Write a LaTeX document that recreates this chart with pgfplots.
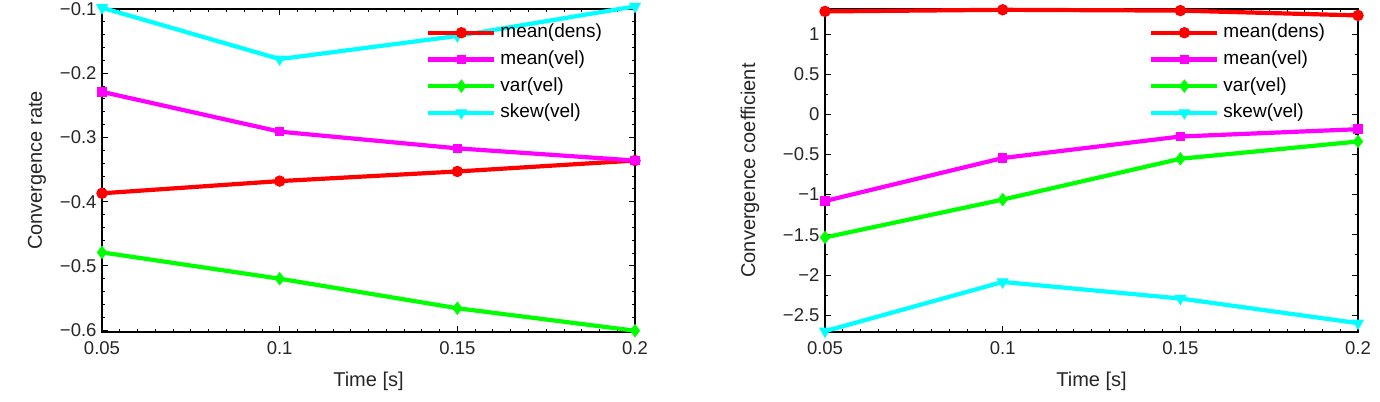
\documentclass[border=0pt]{standalone}
\usepackage{fontspec}
\setmainfont{Liberation Sans}
\usepackage{pgfplots}
\pgfplotsset{compat=1.18}

\definecolor{cred}{RGB}{255,0,0}
\definecolor{cmag}{RGB}{255,0,255}
\definecolor{cgrn}{RGB}{0,255,0}
\definecolor{ccyn}{RGB}{0,255,255}

\pgfplotsset{
  convstyle/.style={
    scale only axis,
    width=533bp, height=323bp,
    anchor=south west,
    xmin=0.05, xmax=0.2,
    xtick={0.05,0.1,0.15,0.2},
    xticklabels={0.05,0.1,0.15,0.2},
    minor x tick num=9,
    tick align=inside,
    major tick length=6bp,
    minor tick length=3bp,
    every tick/.style={black, line width=0.8bp},
    axis line style={black, line width=1.2bp},
    tick label style={font=\fontsize{18.5bp}{20bp}\selectfont, black!85},
    label style={font=\fontsize{20bp}{22bp}\selectfont, black!85},
    xticklabel style={yshift=-6bp},
    yticklabel style={xshift=-2bp},
    xlabel={Time [s]},
    xlabel style={at={(axis description cs:0.5,-0.152)}, anchor=center},
    clip=false,
    every axis plot/.append style={line width=4.2bp},
    legend cell align=left,
    legend image code/.code={%
      \draw[mark repeat=2,mark phase=2,#1]
        plot coordinates {(0bp,0bp) (33bp,0bp) (66bp,0bp)};},
    legend style={draw=none, fill=none, anchor=north west,
      at={(axis description cs:0.608,0.955)},
      font=\fontsize{19bp}{21bp}\selectfont,
      inner sep=0pt, row sep=8.7bp,
      nodes={inner xsep=4bp, inner ysep=0pt, text height=14bp, text depth=4bp}},
  },
  sred/.style={color=cred, mark=*, mark size=5.2bp, mark options={solid, line width=1bp}},
  smag/.style={color=cmag, mark=square*, mark size=4.3bp, mark options={solid, line width=1bp}},
  sgrn/.style={color=cgrn, mark=diamond*, mark size=6bp, mark options={solid, line width=1bp}},
  scyn/.style={color=ccyn, mark=triangle*, mark size=6bp, mark options={solid, line width=1bp, rotate=180}},
}

\begin{document}
\begin{tikzpicture}[x=1bp,y=1bp]
\path[use as bounding box] (0,0) rectangle (1380,401);

% convergence rate
\begin{axis}[convstyle,
  at={(102bp,69bp)},
  ymin=-0.603, ymax=-0.1,
  ytick={-0.6,-0.5,-0.4,-0.3,-0.2,-0.1},
  yticklabels={−0.6,−0.5,−0.4,−0.3,−0.2,−0.1},
  minor y tick num=4,
  ylabel={Convergence rate},
  ylabel style={at={(axis description cs:-0.122,0.5)}, anchor=center},
]
\addplot[sred] coordinates {(0.05,-0.387) (0.1,-0.368) (0.15,-0.353) (0.2,-0.336)};
\addplot[smag] coordinates {(0.05,-0.229) (0.1,-0.291) (0.15,-0.317) (0.2,-0.336)};
\addplot[sgrn] coordinates {(0.05,-0.479) (0.1,-0.520) (0.15,-0.566) (0.2,-0.601)};
\addplot[scyn] coordinates {(0.05,-0.098) (0.1,-0.178) (0.15,-0.142) (0.2,-0.096)};
\legend{mean(dens),mean(vel),var(vel),skew(vel)}
\end{axis}

% convergence coefficient
\begin{axis}[convstyle,
  at={(825bp,69bp)},
  ymin=-2.71, ymax=1.31,
  ytick={-2.5,-2,-1.5,-1,-0.5,0,0.5,1},
  yticklabels={−2.5,−2,−1.5,−1,−0.5,0,0.5,1},
  minor y tick num=1,
  ylabel={Convergence coefficient},
  ylabel style={at={(axis description cs:-0.141,0.5)}, anchor=center},
]
\addplot[sred] coordinates {(0.05,1.28) (0.1,1.30) (0.15,1.29) (0.2,1.23)};
\addplot[smag] coordinates {(0.05,-1.08) (0.1,-0.545) (0.15,-0.277) (0.2,-0.186)};
\addplot[sgrn] coordinates {(0.05,-1.533) (0.1,-1.062) (0.15,-0.554) (0.2,-0.339)};
\addplot[scyn] coordinates {(0.05,-2.70) (0.1,-2.087) (0.15,-2.293) (0.2,-2.60)};
\legend{mean(dens),mean(vel),var(vel),skew(vel)}
\end{axis}
\end{tikzpicture}
\end{document}
